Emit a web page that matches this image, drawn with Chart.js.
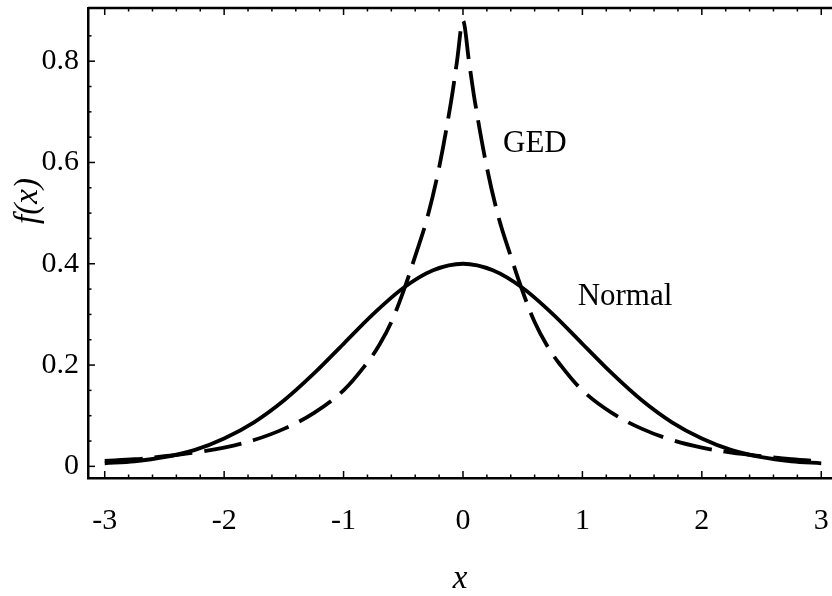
<!DOCTYPE html>
<html>
<head>
<meta charset="utf-8">
<script src="https://cdn.jsdelivr.net/npm/chart.js@4"></script>
<style>
  html, body { margin: 0; padding: 0; background: #fff; }
  #box { width: 832px; height: 596px; }
</style>
</head>
<body>
<div id="box"><canvas id="grafica"></canvas></div>
<script>
// valores
const xNormal = [-3, -2.75, -2.5, -2.25, -2, -1.75, -1.5, -1.25, -1, -0.75, -0.5, -0.25, 0,
                 0.25, 0.5, 0.75, 1, 1.25, 1.5, 1.75, 2, 2.25, 2.5, 2.75, 3];
const yNormal = [0.006, 0.01, 0.018, 0.032, 0.055, 0.087, 0.130, 0.183, 0.242, 0.301, 0.352, 0.387, 0.400,
                 0.387, 0.352, 0.301, 0.242, 0.183, 0.130, 0.087, 0.055, 0.032, 0.018, 0.01, 0.006];

const xGed = [-3, -2.75, -2.5, -2.25, -2, -1.75, -1.5, -1.25, -1, -0.8, -0.7, -0.6, -0.5, -0.4, -0.3, -0.2, -0.1, -0.05, 0,
              0.05, 0.1, 0.2, 0.3, 0.4, 0.5, 0.6, 0.7, 0.8, 1, 1.25, 1.5, 1.75, 2, 2.25, 2.5, 2.75, 3];
const yGed = [0.011, 0.014, 0.02, 0.027, 0.037, 0.052, 0.074, 0.105, 0.15, 0.205, 0.24, 0.285, 0.345, 0.415, 0.49, 0.59, 0.72, 0.80, 0.88,
              0.80, 0.72, 0.59, 0.49, 0.415, 0.345, 0.285, 0.24, 0.205, 0.15, 0.105, 0.074, 0.052, 0.037, 0.027, 0.02, 0.014, 0.01];

const xTicks = [-3, -2, -1, 0, 1, 2, 3];
const yTicks = [0, 0.2, 0.4, 0.6, 0.8];

const fuente = "'Liberation Serif', 'DejaVu Serif', serif";

function puntos(xs, ys) {
    return xs.map((x, i) => ({ x: x, y: ys[i] }));
}

// marcas hacia dentro, marco superior, textos
const marco = {
    id: 'marco',
    afterDraw(chart) {
        const ctx = chart.ctx;
        const a = chart.chartArea;
        const sx = chart.scales.x;
        const sy = chart.scales.y;
        ctx.save();
        ctx.strokeStyle = '#000';
        // linea de arriba
        ctx.beginPath();
        ctx.lineWidth = 2.5;
        ctx.moveTo(a.left, a.top);
        ctx.lineTo(a.right, a.top);
        ctx.stroke();
        ctx.lineWidth = 1.5;
        for (let v = -3; v <= 3.001; v += 0.2) {
            const px = sx.getPixelForValue(v);
            const mayor = Math.abs(v - Math.round(v)) < 0.01;
            const l = mayor ? 7 : 3.5;
            ctx.beginPath();
            ctx.moveTo(px, a.bottom);
            ctx.lineTo(px, a.bottom - l);
            ctx.moveTo(px, a.top);
            ctx.lineTo(px, a.top + l);
            ctx.stroke();
        }
        for (let v = 0; v <= 0.9; v += 0.05) {
            const py = sy.getPixelForValue(v);
            const mayor = Math.abs(v / 0.2 - Math.round(v / 0.2)) < 0.01;
            const l = mayor ? 7 : 3.5;
            ctx.beginPath();
            ctx.moveTo(a.left, py);
            ctx.lineTo(a.left + l, py);
            ctx.stroke();
        }
        // etiquetas de las curvas
        ctx.fillStyle = '#000';
        ctx.font = "31px " + fuente;
        ctx.textBaseline = 'alphabetic';
        ctx.textAlign = 'left';
        ctx.fillText('GED', sx.getPixelForValue(0.335), sy.getPixelForValue(0.62));
        ctx.fillText('Normal', sx.getPixelForValue(0.96), sy.getPixelForValue(0.318));
        // titulo eje y
        ctx.save();
        ctx.translate(28, 201);
        ctx.rotate(-Math.PI / 2);
        ctx.textAlign = 'center';
        ctx.textBaseline = 'middle';
        ctx.font = "italic 33px " + fuente;
        ctx.fillText('f(x)', 0, 0);
        ctx.restore();
        ctx.restore();
    }
};

const ctx = document.getElementById('grafica').getContext('2d');
const chart = new Chart(ctx, {
    type: 'line',
    data: {
        datasets: [{
            label: 'Normal',
            data: puntos(xNormal, yNormal),
            borderColor: '#000',
            borderWidth: 3.8,
            pointRadius: 0,
            fill: false,
            cubicInterpolationMode: 'monotone'
        }, {
            label: 'GED',
            data: puntos(xGed, yGed),
            borderColor: '#000',
            borderWidth: 3.8,
            borderDash: [38, 12],
            pointRadius: 0,
            fill: false,
            tension: 0.35
        }]
    },
    options: {
        responsive: true,
        maintainAspectRatio: false,
        animation: false,
        layout: { padding: { top: 8, left: 0, right: 0, bottom: 0 } },
        plugins: {
            legend: { display: false },
            tooltip: { enabled: false }
        },
        scales: {
            x: {
                type: 'linear',
                min: -3.14,
                max: 3.09,
                afterBuildTicks: (s) => { s.ticks = xTicks.map(v => ({ value: v })); },
                afterFit: (s) => { s.height = 118; s.paddingLeft = 0; s.paddingRight = 0; },
                grid: { display: true, drawOnChartArea: false, drawTicks: false },
                border: { display: true, color: '#000', width: 2.5 },
                ticks: {
                    color: '#000',
                    padding: 25,
                    maxRotation: 0,
                    font: { family: fuente, size: 30 },
                    callback: (v) => String(v)
                },
                title: {
                    display: true,
                    text: 'x',
                    color: '#000',
                    font: { family: fuente, size: 33, style: 'italic', lineHeight: 1 },
                    padding: { top: 0, bottom: 0 }
                }
            },
            y: {
                type: 'linear',
                min: -0.023,
                max: 0.905,
                afterBuildTicks: (s) => { s.ticks = yTicks.map(v => ({ value: v })); },
                afterFit: (s) => { s.width = 88; s.paddingTop = 0; s.paddingBottom = 0; },
                grid: { display: true, drawOnChartArea: false, drawTicks: false },
                border: { display: true, color: '#000', width: 2.5 },
                ticks: {
                    color: '#000',
                    padding: 9,
                    font: { family: fuente, size: 30 },
                    callback: (v) => v === 0 ? '0' : v.toFixed(1)
                }
            }
        }
    },
    plugins: [marco]
});
</script>
</body>
</html>
